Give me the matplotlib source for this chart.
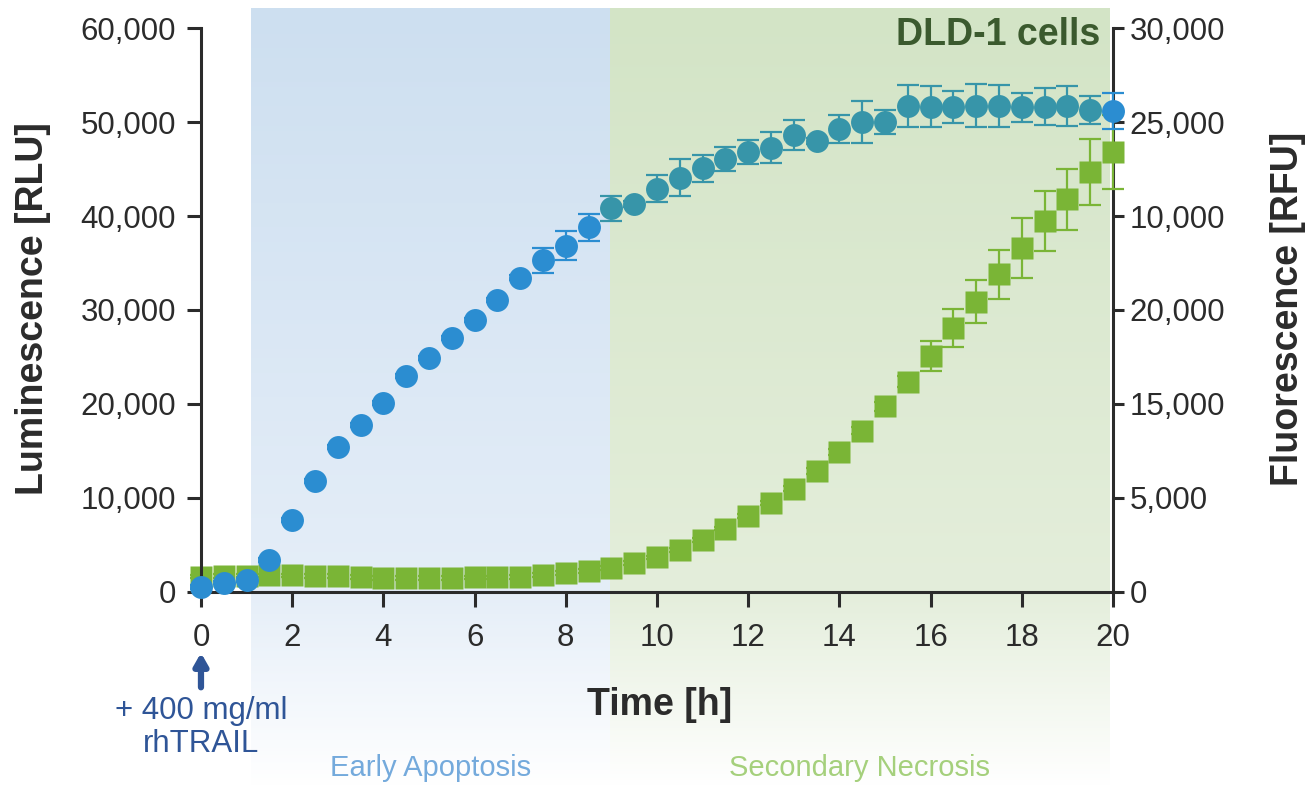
import numpy as np
import matplotlib.pyplot as plt
from matplotlib.colors import to_rgb

plt.rcParams['font.family'] = ['Liberation Sans', 'DejaVu Sans']

# time points [h]
time_h = [0, 0.5, 1, 1.5, 2, 2.5, 3, 3.5, 4, 4.5, 5, 5.5, 6, 6.5, 7, 7.5, 8, 8.5, 9, 9.5,
          10, 10.5, 11, 11.5, 12, 12.5, 13, 13.5, 14, 14.5, 15, 15.5, 16, 16.5, 17, 17.5,
          18, 18.5, 19, 19.5, 20]

# luminescence (left axis, RLU)
lum_rlu = [500, 1000, 1280, 3400, 7660, 11840, 15460, 17770, 20070, 23000, 24900, 27000,
           28900, 31100, 33450, 35300, 36840, 38800, 40800, 41250, 42900, 44080, 45070,
           46060, 46840, 47270, 48620, 48010, 49220, 50040, 50030, 51700, 51630, 51630,
           51740, 51700, 51560, 51630, 51700, 51280, 51210]
lum_err = [200, 200, 200, 200, 200, 200, 200, 200, 200, 200, 200, 200,
           200, 200, 300, 1330, 1540, 1420, 1370, 300, 1450, 2000, 1450,
           1240, 1280, 1670, 1600, 300, 1490, 2220, 1300, 2200, 2150, 1700,
           2320, 2220, 1520, 1950, 2130, 1480, 1900]

# fluorescence (right axis, RFU)
flu_rfu = [820, 850, 870, 880, 880, 860, 830, 790, 760, 760, 750, 760, 770, 770, 800, 900,
           1020, 1130, 1290, 1540, 1840, 2240, 2750, 3370, 4040, 4720, 5500, 6440, 7460,
           8580, 9870, 11180, 12560, 14050, 15450, 16900, 18300, 19740, 20880, 22330, 23410]
flu_err = [100, 100, 100, 100, 100, 100, 100, 100, 100, 100, 100, 100, 100, 100, 100, 100,
           100, 100, 100, 100, 100, 100, 100, 100, 100, 100, 150, 150, 150,
           200, 250, 300, 780, 1010, 1150, 1310, 1580, 1610, 1620, 1740, 1950]

# phases shaded behind the data [h]
phase_names = ['Early Apoptosis', 'Secondary Necrosis']
phase_start = [1.1, 8.97]
phase_end = [8.97, 19.93]

rlu_ticks = [0, 10000, 20000, 30000, 40000, 50000, 60000]
rlu_tick_labels = ['0', '10,000', '20,000', '30,000', '40,000', '50,000', '60,000']
rfu_ticks = [0, 5000, 10000, 15000, 20000, 25000, 30000]
rfu_tick_labels = ['0', '5,000', '15,000', '20,000', '10,000', '25,000', '30,000']
time_ticks = [0, 2, 4, 6, 8, 10, 12, 14, 16, 18, 20]

BLUE = '#2b8dd1'
TEAL = '#3795a9'
GREEN = '#7ab536'
DARK = '#2b2b2b'

fig = plt.figure(figsize=(13.11, 7.85), dpi=100)
ax = fig.add_axes([0.1533, 0.2459, 0.6957, 0.7184])
ax2 = ax.twinx()
ax.set_zorder(ax2.get_zorder() + 1)
ax.patch.set_visible(False)
ax2.patch.set_visible(False)

# gradient shading for the two phases (axes-fraction in y)
y_lo, y_hi = -0.345, 1.034
ys = np.linspace(y_lo, y_hi, 300)
shade_cols = [('#cddff0', '#e5eef8'), ('#d3e4c6', '#e4eedb')]
for x0, x1, (c_top, c_mid) in zip(phase_start, phase_end, shade_cols):
    top, mid = np.array(to_rgb(c_top)), np.array(to_rgb(c_mid))
    grad = np.ones((len(ys), 1, 3))
    for k in range(3):
        grad[:, 0, k] = np.interp(ys, [y_lo, 0, y_hi], [1.0, mid[k], top[k]])
    ax2.imshow(grad, extent=(x0, x1, y_lo, y_hi), origin='lower', aspect='auto',
               transform=ax2.get_xaxis_transform(), clip_on=False, zorder=0,
               interpolation='bilinear')

# fluorescence squares (right axis)
ax2.errorbar(time_h, flu_rfu, yerr=flu_err, fmt='s', ms=15.5, mec='none', color=GREEN,
             ecolor=GREEN, elinewidth=1.6, capsize=8, capthick=1.6, clip_on=False, zorder=3)

# luminescence circles (left axis), teal inside the green phase
t = np.array(time_h)
lum = np.array(lum_rlu)
err = np.array(lum_err)
in_green = (t >= phase_start[1]) & (t <= phase_end[1])
for mask, c in [(~in_green, BLUE), (in_green, TEAL)]:
    ax.errorbar(t[mask], lum[mask], yerr=err[mask], fmt='o', ms=16.5, mec='none', color=c,
                ecolor=c, elinewidth=1.6, capsize=8, capthick=1.6, clip_on=False, zorder=3)

ax.set_xlim(0, 20)
ax.set_ylim(0, 60000)
ax2.set_ylim(0, 30000)

ax.set_xticks(time_ticks)
ax.set_yticks(rlu_ticks)
ax.set_yticklabels(rlu_tick_labels)
ax2.set_yticks(rfu_ticks)
ax2.set_yticklabels(rfu_tick_labels)

for a in (ax, ax2):
    for s in a.spines.values():
        s.set_visible(False)
ax.spines['left'].set_visible(True)
ax.spines['bottom'].set_visible(True)
ax2.spines['right'].set_visible(True)
for s in (ax.spines['left'], ax.spines['bottom'], ax2.spines['right']):
    s.set_linewidth(2.2)
    s.set_color(DARK)

ax.tick_params(axis='y', direction='out', length=10, width=2.2, pad=8, labelsize=22.5,
               colors=DARK)
ax.tick_params(axis='x', direction='out', length=11, width=2.2, pad=11, labelsize=22.5,
               colors=DARK)
ax2.tick_params(axis='y', direction='out', length=8, width=2.2, pad=4, labelsize=22.5,
                colors=DARK)

ax.set_xlabel('Time [h]', fontsize=27, fontweight='bold', color=DARK)
ax.xaxis.set_label_coords(0.503, -0.168)
ax.set_ylabel('Luminescence [RLU]', fontsize=27, fontweight='bold', color=DARK)
ax.yaxis.set_label_coords(-0.164, 0.502)
ax2.set_ylabel('Fluorescence [RFU]', fontsize=27, fontweight='bold', color=DARK)
ax2.yaxis.set_label_coords(1.172, 0.502)

ax.text(0.986, 0.97, 'DLD-1 cells', transform=ax.transAxes, ha='right', va='baseline',
        fontsize=27, fontweight='bold', color='#3b5a2e', zorder=5)

# treatment arrow at t = 0
xt = ax.get_xaxis_transform()
ax.annotate('', xy=(0, -0.103), xycoords=xt, xytext=(0, -0.174), textcoords=xt,
            arrowprops=dict(arrowstyle='-|>,head_length=0.7,head_width=0.4',
                            color='#2f5597', lw=4.5), annotation_clip=False)
ax.text(0, -0.24, '+ 400 mg/ml\nrhTRAIL', transform=xt, ha='center', va='center',
        fontsize=22.5, color='#2f5597', linespacing=1.15)

for name, x0, x1, c in zip(phase_names, phase_start, phase_end, ['#74aadc', '#a5d07c']):
    ax.text((x0 + x1) / 2, -0.312, name, transform=xt, ha='center', va='center',
            fontsize=21, color=c)

fig.savefig('out.png', dpi=100)
